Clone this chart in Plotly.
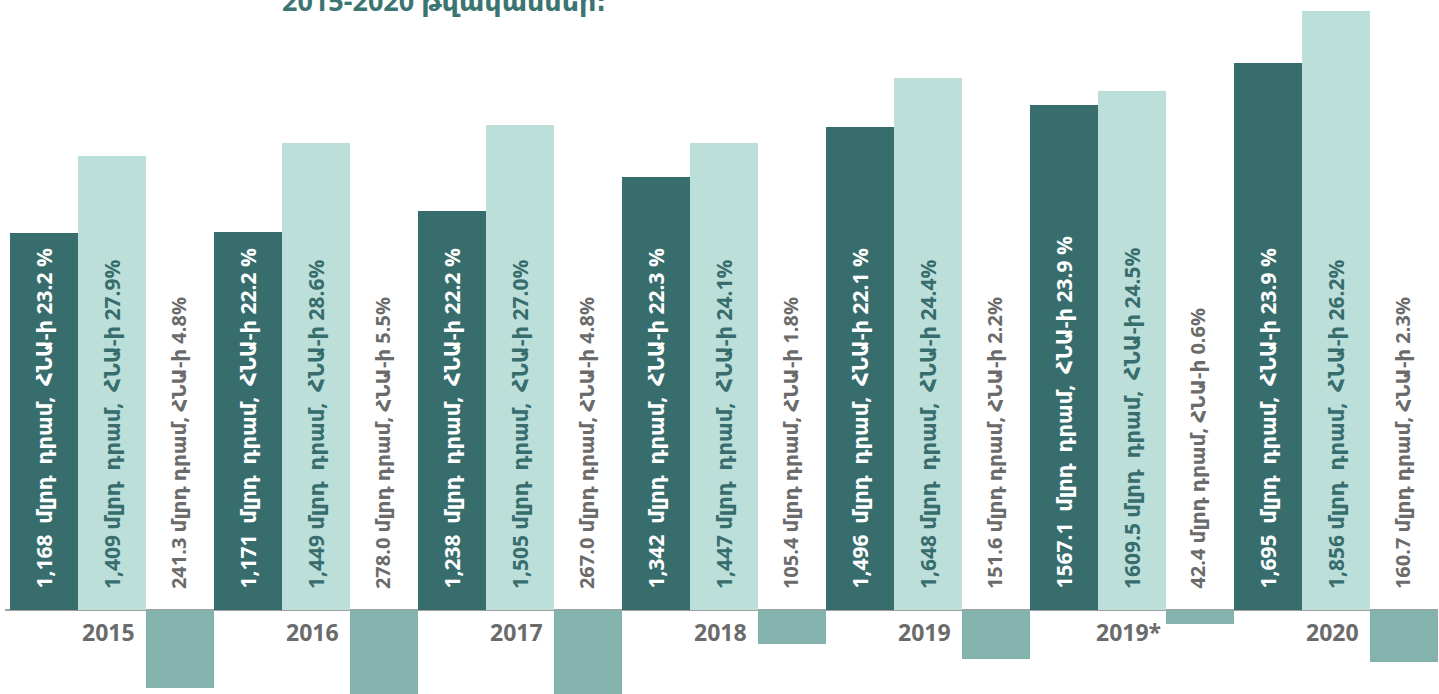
import plotly.graph_objects as go

years = ["2015", "2016", "2017", "2018", "2019", "2019*", "2020"]
revenue = [1168, 1171, 1238, 1342, 1496, 1567.1, 1695]
expenditure = [1409, 1449, 1505, 1447, 1648, 1609.5, 1856]
deficit = [241.3, 278.0, 267.0, 105.4, 151.6, 42.4, 160.7]
rev_gdp = [23.2, 22.2, 22.2, 22.3, 22.1, 23.9, 23.9]
exp_gdp = [27.9, 28.6, 27.0, 24.1, 24.4, 24.5, 26.2]
def_gdp = [4.8, 5.5, 4.8, 1.8, 2.2, 0.6, 2.3]

title_text = "2015-2020 թվականներ։"
unit_a = "մլրդ"
unit_b = "դրամ,"
unit_c = "ՀՆԱ-ի"

C_DARK = "#376d6d"
C_LIGHT = "#bddfda"
C_MID = "#84b2ac"
C_GRAY = "#6b6b6b"
NB = "\u00a0"
D = NB + NB


def fmt_big(v):
    return f"{v:,.0f}" if float(v).is_integer() else f"{v}"


fig = go.Figure()
fig.add_trace(go.Bar(x=years, y=revenue, marker=dict(color=C_DARK, line=dict(width=0)), name="rev"))
fig.add_trace(go.Bar(x=years, y=expenditure, marker=dict(color=C_LIGHT, line=dict(width=0)), name="exp"))
fig.add_trace(go.Bar(x=years, y=[-d for d in deficit], marker=dict(color=C_MID, line=dict(width=0)), name="def"))

ann = []
label_font = "Open Sans, DejaVu Sans, sans-serif"
for i, yr in enumerate(years):
    specs = [
        (f"{fmt_big(revenue[i])}{D}{unit_a}{D}{unit_b}{D}{unit_c} {rev_gdp[i]}{NB}%", "white", -68, 21),
        (f"{fmt_big(expenditure[i])} {unit_a}{D}{unit_b}{D}{unit_c} {exp_gdp[i]}%", C_DARK, 0, 21),
        (f"{deficit[i]:.1f} {unit_a} {unit_b} {unit_c} {def_gdp[i]}%", C_GRAY, 66, 20),
    ]
    for txt, col, xs, fs in specs:
        ann.append(dict(
            x=i, y=0, xref="x", yref="y", text=f"<b>{txt}</b>", showarrow=False,
            textangle=-90, xanchor="center", yanchor="bottom", xshift=xs, yshift=19,
            font=dict(family=label_font, size=fs, color=col),
        ))
    ann.append(dict(
        x=i, y=0, xref="x", yref="y", text=f"<b>{yr}</b>", showarrow=False,
        xanchor="center", yanchor="middle", yshift=-22, xshift=-4,
        font=dict(family=label_font, size=23, color=C_GRAY),
    ))

ann.append(dict(
    x=(280 - 5) / 1433, y=1, xref="paper", yref="paper", text=f"<b>{title_text}</b>",
    showarrow=False, xanchor="left", yanchor="bottom", yshift=-21,
    font=dict(family=label_font, size=27, color="#3b7572"),
))

fig.update_layout(
    width=1439, height=694,
    margin=dict(l=5, r=1, t=0, b=0),
    paper_bgcolor="white", plot_bgcolor="white",
    barmode="group", bargap=0, bargroupgap=0,
    showlegend=False,
    annotations=ann,
    xaxis=dict(type="category", showgrid=False, showticklabels=False, zeroline=False,
               showline=False, range=[6.5 - 1433 / 204, 6.5]),
    yaxis=dict(range=[-260, 1891], showgrid=False, showticklabels=False,
               zeroline=True, zerolinecolor="#a0a0a0", zerolinewidth=2),
)

fig.write_html("out.html", config={"displayModeBar": False},
               post_script="document.body.style.margin='0';document.body.style.overflow='hidden';")
